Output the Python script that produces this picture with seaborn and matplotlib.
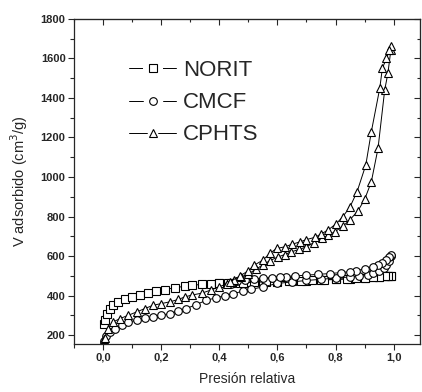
import matplotlib
matplotlib.use("Agg")
import matplotlib.pyplot as plt
from matplotlib.lines import Line2D
from matplotlib.legend_handler import HandlerTuple
from matplotlib.ticker import MultipleLocator
import seaborn as sns
import pandas as pd

# Isotermas (adsorción / desorción)
norit_ads_p = [0.005, 0.007, 0.013, 0.024, 0.035, 0.053, 0.076, 0.10, 0.127, 0.156, 0.184, 0.213,
               0.247, 0.282, 0.305, 0.34, 0.37, 0.40, 0.43, 0.47, 0.50, 0.55, 0.60, 0.65, 0.70,
               0.75, 0.80, 0.85, 0.90, 0.93, 0.95, 0.97, 0.98, 0.99]
norit_ads_v = [255, 276, 310, 335, 352, 369, 381, 394, 406, 416, 424, 431,
               440, 448, 453, 457, 460, 462, 464, 466, 467, 469, 471, 474, 476,
               479, 482, 486, 490, 493, 495, 498, 500, 502]
norit_des_p = [0.99, 0.98, 0.97, 0.95, 0.93, 0.90, 0.87, 0.84, 0.80, 0.76, 0.72, 0.68,
               0.64, 0.60, 0.56, 0.52, 0.48, 0.44, 0.40]
norit_des_v = [502, 501, 499, 497, 495, 492, 489, 486, 484, 481, 478, 476,
               474, 472, 470, 468, 466, 464, 462]

cmcf_ads_p = [0.003, 0.01, 0.024, 0.041, 0.064, 0.087, 0.116, 0.144, 0.173, 0.20, 0.23, 0.259,
              0.287, 0.32, 0.356, 0.39, 0.42, 0.448, 0.48, 0.51, 0.551, 0.60, 0.65, 0.70,
              0.75, 0.80, 0.85, 0.88, 0.91, 0.93, 0.95, 0.965, 0.975, 0.985, 0.99]
cmcf_ads_v = [170, 195, 217, 234, 251, 267, 276, 285, 293, 301, 310, 322,
              335, 355, 377, 390, 400, 411, 422, 432, 445, 462, 470, 477,
              483, 489, 495, 500, 507, 515, 527, 542, 556, 578, 600]
cmcf_des_p = [0.99, 0.985, 0.975, 0.96, 0.945, 0.93, 0.90, 0.87, 0.85, 0.82, 0.78, 0.74,
              0.70, 0.66, 0.63, 0.608, 0.58, 0.55, 0.52, 0.49, 0.46, 0.44]
cmcf_des_v = [605, 595, 582, 565, 553, 545, 535, 527, 522, 517, 512, 508,
              504, 500, 497, 495, 492, 489, 485, 480, 472, 458]

cphts_ads_p = [0.003, 0.007, 0.018, 0.035, 0.058, 0.087, 0.116, 0.144, 0.173, 0.20, 0.23, 0.259,
               0.282, 0.305, 0.34, 0.37, 0.40, 0.425, 0.45, 0.475, 0.50, 0.525, 0.55, 0.575,
               0.602, 0.625, 0.648, 0.675, 0.70, 0.725, 0.752, 0.775, 0.797, 0.826, 0.85,
               0.877, 0.90, 0.923, 0.946, 0.969, 0.98, 0.99]
cphts_ads_v = [180, 188, 234, 267, 284, 301, 318, 335, 352, 360, 369, 381,
               394, 403, 413, 428, 445, 460, 478, 495, 510, 533, 556, 578,
               596, 608, 622, 634, 647, 668, 690, 706, 723, 752, 785,
               829, 887, 976, 1145, 1440, 1525, 1640]
cphts_des_p = [0.992, 0.985, 0.975, 0.961, 0.952, 0.923, 0.904, 0.874, 0.849, 0.825, 0.803,
               0.774, 0.75, 0.729, 0.70, 0.677, 0.65, 0.625, 0.597, 0.574, 0.55, 0.52, 0.50,
               0.47, 0.436]
cphts_des_v = [1665, 1640, 1600, 1550, 1449, 1229, 1061, 926, 847, 800, 765,
               732, 712, 695, 684, 672, 660, 647, 639, 614, 580, 554, 526,
               499, 470]

muestras = ["NORIT", "CMCF", "CPHTS"]
marcadores = {"NORIT": "s", "CMCF": "o", "CPHTS": "^"}

ramas = [
    ("NORIT", "ads", norit_ads_p, norit_ads_v), ("NORIT", "des", norit_des_p, norit_des_v),
    ("CMCF", "ads", cmcf_ads_p, cmcf_ads_v), ("CMCF", "des", cmcf_des_p, cmcf_des_v),
    ("CPHTS", "ads", cphts_ads_p, cphts_ads_v), ("CPHTS", "des", cphts_des_p, cphts_des_v),
]
df = pd.concat([pd.DataFrame({"p": p, "v": v, "muestra": m, "rama": r}) for m, r, p, v in ramas],
               ignore_index=True)

sns.set_style("ticks")
plt.rcParams["font.family"] = ["Liberation Sans", "DejaVu Sans"]

fig = plt.figure(figsize=(4.22, 3.92), dpi=100)
ax = fig.add_axes([0.175, 0.122, 0.82, 0.830])

for (m, r), g in df.groupby(["muestra", "rama"], sort=False):
    sns.lineplot(data=g, x="p", y="v", sort=False, estimator=None, ax=ax,
                 color="black", linewidth=0.7, marker=marcadores[m], markersize=5.5,
                 markerfacecolor="white", markeredgecolor="black", markeredgewidth=0.8)

ax.set_xlim(-0.1, 1.09)
ax.set_ylim(155, 1800)
ax.xaxis.set_minor_locator(MultipleLocator(0.1))
ax.yaxis.set_minor_locator(MultipleLocator(100))
ax.set_yticks(range(200, 1801, 200))
ax.set_xticks([0.0, 0.2, 0.4, 0.6, 0.8, 1.0])
ax.set_xticklabels(["0,0", "0,2", "0,4", "0,6", "0,8", "1,0"])
ax.tick_params(which="both", direction="out", width=0.8, labelsize=8, pad=2)
ax.tick_params(which="major", length=4)
ax.tick_params(which="minor", length=3)
for lab in ax.get_xticklabels() + ax.get_yticklabels():
    lab.set_fontweight("bold")
for s in ax.spines.values():
    s.set_linewidth(0.9)

sec_x = ax.secondary_xaxis("top")
sec_x.xaxis.set_major_locator(MultipleLocator(0.2))
sec_x.xaxis.set_minor_locator(MultipleLocator(0.1))
sec_x.tick_params(which="both", direction="in", labeltop=False, width=0.8)
sec_x.tick_params(which="major", length=4)
sec_x.tick_params(which="minor", length=2.5)
sec_y = ax.secondary_yaxis("right")
sec_y.yaxis.set_major_locator(MultipleLocator(200))
sec_y.yaxis.set_minor_locator(MultipleLocator(100))
sec_y.tick_params(which="both", direction="in", labelright=False, width=0.8)
sec_y.tick_params(which="major", length=4)
sec_y.tick_params(which="minor", length=2.5)

ax.set_xlabel("Presión relativa", fontsize=10, labelpad=7)
ax.set_ylabel("V adsorbido (cm$^3$/g)", fontsize=10.5, labelpad=8)

# leyenda: línea cortada alrededor del marcador
handles = []
for m in muestras:
    hueco = Line2D([], [], color="black", linewidth=0.7, marker=marcadores[m], markersize=14,
                   markerfacecolor="white", markeredgecolor="white", markeredgewidth=0)
    marca = Line2D([], [], linestyle="none", marker=marcadores[m], markersize=5.5,
                   markerfacecolor="white", markeredgecolor="black", markeredgewidth=0.8)
    handles.append((hueco, marca))
ax.legend(handles, muestras, loc="upper left", bbox_to_anchor=(0.135, 0.9), frameon=False,
          fontsize=16, handlelength=2.1, handletextpad=0.3, labelspacing=0.5,
          borderaxespad=0, handler_map={tuple: HandlerTuple(ndivide=1, pad=0)})

fig.savefig("out.png", dpi=100)
